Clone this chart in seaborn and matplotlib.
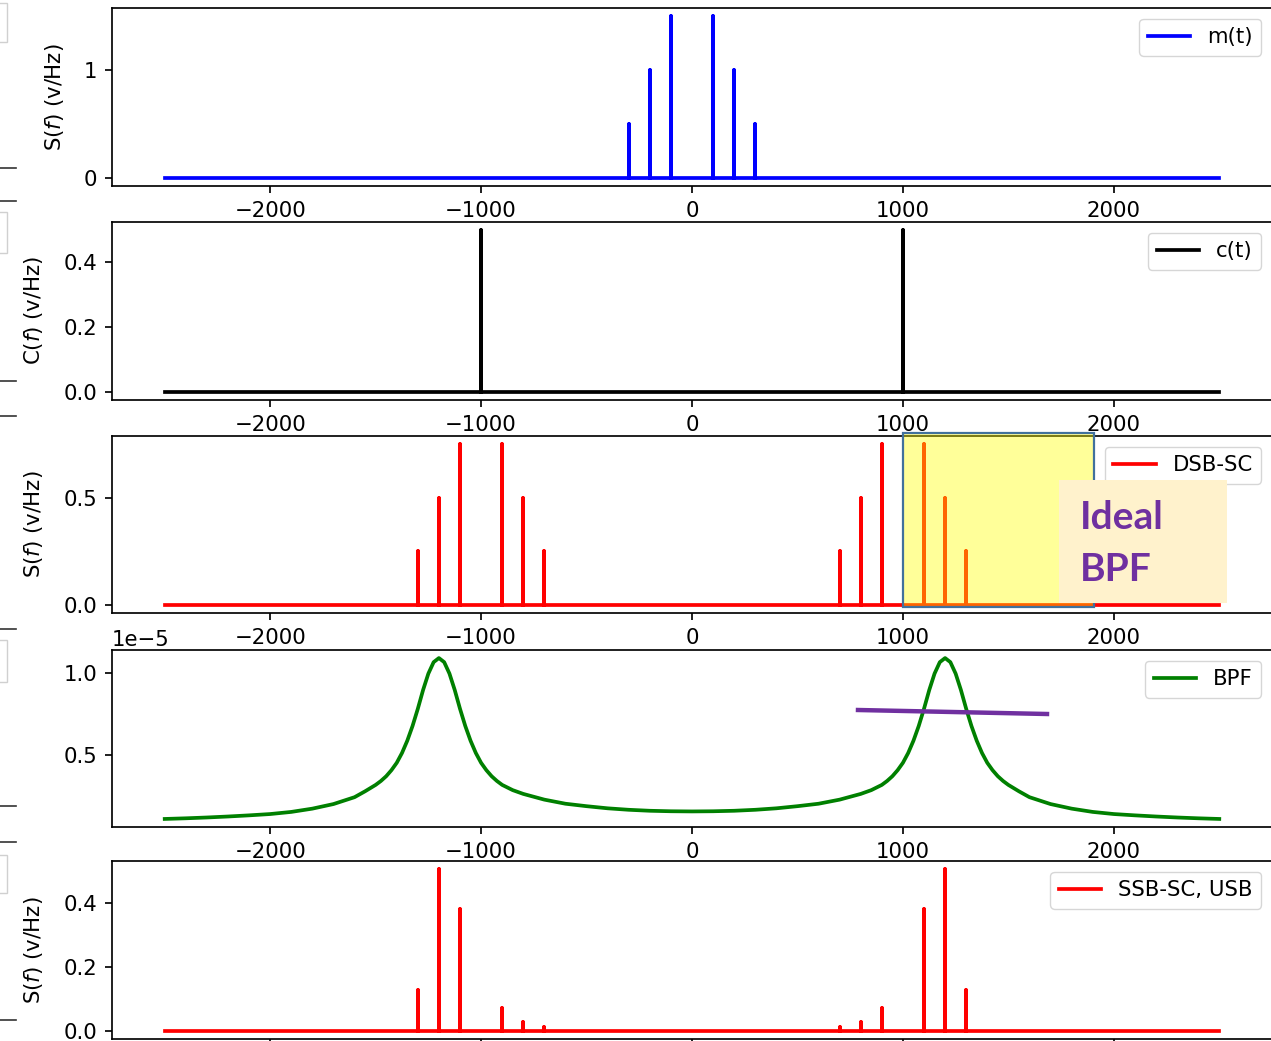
import numpy as np
import pandas as pd
import matplotlib
matplotlib.use("Agg")
import matplotlib.pyplot as plt
import seaborn as sns
from matplotlib.patches import Rectangle
from matplotlib.lines import Line2D

# frequency span of every trace (Hz)
f_lo, f_hi = -2500, 2500

# message m(t): tone lines
msg_freq = [-300, -200, -100, 100, 200, 300]
msg_amp = [0.5, 1.0, 1.5, 1.5, 1.0, 0.5]

# carrier c(t)
car_freq = [-1000, 1000]
car_amp = [0.5, 0.5]

# DSB-SC
dsb_freq = [-1300, -1200, -1100, -900, -800, -700, 700, 800, 900, 1100, 1200, 1300]
dsb_amp = [0.25, 0.5, 0.75, 0.75, 0.5, 0.25, 0.25, 0.5, 0.75, 0.75, 0.5, 0.25]

# SSB-SC, USB (after the BPF)
ssb_freq = [-1300, -1200, -1100, -900, -800, -700, 700, 800, 900, 1100, 1200, 1300]
ssb_amp = [0.128, 0.506, 0.381, 0.072, 0.028, 0.012, 0.012, 0.028, 0.072, 0.381, 0.506, 0.128]

# BPF magnitude (units of 1e-5)
bpf_freq = [-2500, -2400, -2300, -2200, -2100, -2000, -1900, -1800, -1700, -1600,
            -1550, -1500, -1475, -1450, -1425, -1400, -1375, -1350, -1325, -1300,
            -1275, -1250, -1225, -1200, -1175, -1150, -1125, -1100, -1075, -1050,
            -1025, -1000, -975, -950, -925, -900, -850, -800, -700, -600, -500,
            -400, -300, -200, -100, 0,
            100, 200, 300, 400, 500, 600, 700, 800, 850, 900, 925, 950, 975,
            1000, 1025, 1050, 1075, 1100, 1125, 1150, 1175, 1200, 1225, 1250,
            1275, 1300, 1325, 1350, 1375, 1400, 1425, 1450, 1475, 1500, 1550,
            1600, 1700, 1800, 1900, 2000, 2100, 2200, 2300, 2400, 2500]
bpf_gain = [0.107, 0.111, 0.116, 0.122, 0.129, 0.137, 0.150, 0.170, 0.198, 0.240,
            0.276, 0.315, 0.339, 0.368, 0.405, 0.450, 0.510, 0.585, 0.675, 0.780,
            0.895, 0.995, 1.065, 1.090, 1.065, 0.995, 0.895, 0.780, 0.675, 0.585,
            0.510, 0.450, 0.405, 0.368, 0.339, 0.315, 0.283, 0.260, 0.225, 0.200,
            0.185, 0.172, 0.163, 0.157, 0.154, 0.153,
            0.154, 0.157, 0.163, 0.172, 0.185, 0.200, 0.225, 0.260, 0.283, 0.315,
            0.339, 0.368, 0.405, 0.450, 0.510, 0.585, 0.675, 0.780, 0.895, 0.995,
            1.065, 1.090, 1.065, 0.995, 0.895, 0.780, 0.675, 0.585, 0.510, 0.450,
            0.405, 0.368, 0.339, 0.315, 0.276, 0.240, 0.198, 0.170, 0.150, 0.137,
            0.129, 0.122, 0.116, 0.111, 0.107]

# y tick values per panel
yt_msg = [0, 1]
yt_car = [0.0, 0.2, 0.4]
yt_dsb = [0.0, 0.5]
yt_bpf = [0.5e-5, 1.0e-5]
yt_ssb = [0.0, 0.2, 0.4]


def spike_trace(freqs, amps):
    xs, ys = [f_lo], [0.0]
    for f, a in zip(freqs, amps):
        xs += [f, f, f]
        ys += [0.0, a, 0.0]
    xs.append(f_hi)
    ys.append(0.0)
    return pd.DataFrame({"f": xs, "S": ys})


s = 1.53
plt.rcParams.update({
    "font.size": 15.3,
    "lines.linewidth": 1.75 * s,
    "axes.linewidth": 0.8 * s,
    "xtick.major.size": 3.5 * s, "ytick.major.size": 3.5 * s,
    "xtick.major.width": 0.8 * s, "ytick.major.width": 0.8 * s,
    "xtick.major.pad": 3.5 * s, "ytick.major.pad": 3.5 * s,
    "axes.labelpad": 13,
})

W, H = 1271, 1041
fig = plt.figure(figsize=(W / 100, H / 100), dpi=100)

# axes boxes in pixels: (top, bottom); left 112, right 1272
boxes = [(8, 186), (222, 400), (436, 613), (650, 827), (861, 1039)]
axes = []
for top, bot in boxes:
    axes.append(fig.add_axes([112 / W, 1 - bot / H, (1272 - 112) / W, (bot - top) / H]))

ax1, ax2, ax3, ax4, ax5 = axes

sns.lineplot(data=spike_trace(msg_freq, msg_amp), x="f", y="S", sort=False,
             estimator=None, color="b", label="m(t)", ax=ax1)
ax1.set_ylabel("S($f$) (v/Hz)")
ax1.set_yticks(yt_msg)

sns.lineplot(data=spike_trace(car_freq, car_amp), x="f", y="S", sort=False,
             estimator=None, color="k", label="c(t)", ax=ax2)
ax2.set_ylabel("C($f$) (v/Hz)")
ax2.set_yticks(yt_car)

sns.lineplot(data=spike_trace(dsb_freq, dsb_amp), x="f", y="S", sort=False,
             estimator=None, color="r", label="DSB-SC", ax=ax3)
ax3.set_ylabel("S($f$) (v/Hz)")
ax3.set_yticks(yt_dsb)

bpf = pd.DataFrame({"f": bpf_freq, "H": np.array(bpf_gain) * 1e-5})
sns.lineplot(data=bpf, x="f", y="H", sort=False, estimator=None, color="g",
             label="BPF", ax=ax4)
ax4.set_ylabel("")
ax4.set_yticks(yt_bpf)

sns.lineplot(data=spike_trace(ssb_freq, ssb_amp), x="f", y="S", sort=False,
             estimator=None, color="r", label="SSB-SC, USB", ax=ax5)
ax5.set_ylabel("S($f$) (v/Hz)")
ax5.set_yticks(yt_ssb)

for ax in axes:
    ax.set_xlabel("")
    ax.set_xticks([-2000, -1000, 0, 1000, 2000])
    ax.legend(loc="upper right")
# bottom panel's x labels fall outside the crop
ax5.tick_params(axis="x", labelbottom=False)


def px(x, y):
    return x / W, 1 - y / H


# slide annotations on top of the figure
x0, y0 = px(903, 607)
fig.patches.append(Rectangle((x0, y0), 191 / W, 174 / H, transform=fig.transFigure,
                             facecolor=(1, 1, 0, 0.4), edgecolor="#41719C",
                             linewidth=1.6, zorder=5))
x0, y0 = px(1059, 603)
fig.patches.append(Rectangle((x0, y0), 168 / W, 123 / H, transform=fig.transFigure,
                             facecolor="#FFF2CC", edgecolor="none", zorder=6))
for label, yb in [("Ideal", 529), ("BPF", 581)]:
    fig.text(*px(1080, yb), label, color="#7030A0", fontsize=28,
             fontweight="bold", family=["Lato", "DejaVu Sans"],
             ha="left", va="baseline", zorder=7)

xa, ya = px(858, 710)
xb, yb = px(1047, 714)
fig.add_artist(Line2D([xa, xb], [ya, yb], transform=fig.transFigure,
                      color="#7030A0", linewidth=3.2, zorder=7))

# bits of a neighbouring figure at the cropped left edge
for yy in [168, 201, 381, 416, 629, 806, 842, 1020]:
    fig.add_artist(Line2D([0, 16 / W], [1 - yy / H] * 2, transform=fig.transFigure,
                          color="#333333", linewidth=1.2))
for t, b in [(3, 42), (212, 253), (640, 682), (855, 893)]:
    x0, y0 = px(-20, b)
    fig.patches.append(Rectangle((x0, y0), 27 / W, (b - t) / H, transform=fig.transFigure,
                                 facecolor="white", edgecolor="#d0d0d0", linewidth=1.0))

fig.savefig("out.png", dpi=100)
